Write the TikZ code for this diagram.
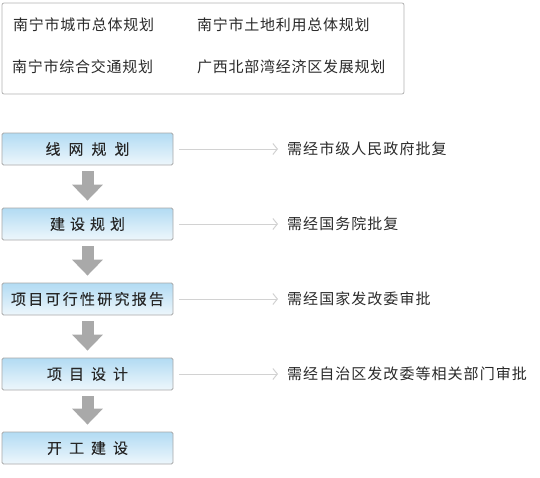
\documentclass[tikz,border=0pt]{standalone}
\usepackage{fontspec}
\setmainfont{Noto Sans CJK SC}
\newfontfamily\txtfont[LetterSpace=5]{Noto Sans CJK SC}
\newfontfamily\rtfont[LetterSpace=7]{Noto Sans CJK SC}
\newfontfamily\bxfont[LetterSpace=15,FakeBold=0.12]{Noto Sans CJK SC}
\usetikzlibrary{arrows.meta,calc}
\definecolor{txtc}{HTML}{2A2A2A}
\definecolor{boxtop}{HTML}{B2DBF3}
\definecolor{boxbot}{HTML}{EEF7FC}
\definecolor{boxline}{HTML}{A8A8A8}
\definecolor{arrowgray}{HTML}{A9A9A9}
\definecolor{connc}{HTML}{D2D2D2}
\begin{document}
\begin{tikzpicture}[x=1pt,y=-1pt,
  every node/.style={font=\txtfont\fontsize{15}{18}\selectfont, text=txtc},
  flowbox/.style={draw=boxline, line width=0.8pt, rounded corners=1.5pt,
    top color=boxtop, bottom color=boxbot, minimum width=171pt, minimum height=32pt,
    inner sep=0pt, font=\bxfont\fontsize{15}{18}\selectfont, text=black!85},
  plaintext/.style={anchor=west, inner sep=0pt},
  righttext/.style={anchor=west, inner sep=0pt, font=\rtfont\fontsize{15}{18}\selectfont},
  downarrow/.style={draw=arrowgray, line width=12pt, -{Triangle[width=30pt,length=16pt]}},
  conn/.style={draw=connc, line width=1pt, -{Straight Barb[length=4.5pt,width=11pt,line width=1pt]}}
]
\useasboundingbox (0,0) rectangle (540,477);
% top box
\node[draw=black!30, line width=0.8pt, rounded corners=2pt, fill=white, inner sep=0pt,
  minimum width=402pt, minimum height=91pt] (top) at (203,48.5) {};
\node[plaintext] (p1) at (13,25) {南宁市城市总体规划};
\node[plaintext] (p2) at (197,25) {南宁市土地利用总体规划};
\node[plaintext] (p3) at (12,67) {南宁市综合交通规划};
\node[plaintext] (p4) at (197,67) {广西北部湾经济区发展规划};
% flow boxes
\node[flowbox] (b1) at (87.5,149) {线\hspace{8pt}网\hspace{8pt}规\hspace{8pt}划};
\node[flowbox] (b2) at (87.5,224) {建\hspace{5pt}设\hspace{5pt}规\hspace{5pt}划};
\node[flowbox] (b3) at (87.5,299) {项目可行性研究报告};
\node[flowbox] (b4) at (87.5,374) {项\hspace{7pt}目\hspace{7pt}设\hspace{7pt}计};
\node[flowbox] (b5) at (87.5,448) {开\hspace{7pt}工\hspace{7pt}建\hspace{7pt}设};
% arrows
\draw[downarrow] ([yshift=-6pt]b1.south) -- ([yshift=7pt]b2.north);
\draw[downarrow] ([yshift=-6pt]b2.south) -- ([yshift=7pt]b3.north);
\draw[downarrow] ([yshift=-6pt]b3.south) -- ([yshift=7pt]b4.north);
\draw[downarrow] ([yshift=-6pt]b4.south) -- ([yshift=7pt]b5.north);
% right texts
\node[righttext] (t1) at (287,149) {需经市级人民政府批复};
\node[righttext] (t2) at (287,224) {需经国务院批复};
\node[righttext] (t3) at (287,299) {需经国家发改委审批};
\node[righttext] (t4) at (287,374) {需经自治区发改委等相关部门审批};
\draw[conn] ([xshift=6pt]b1.east) -- ([xshift=-9pt]t1.west);
\draw[conn] ([xshift=6pt]b2.east) -- ([xshift=-9pt]t2.west);
\draw[conn] ([xshift=6pt]b3.east) -- ([xshift=-9pt]t3.west);
\draw[conn] ([xshift=6pt]b4.east) -- ([xshift=-9pt]t4.west);
\end{tikzpicture}
\end{document}
